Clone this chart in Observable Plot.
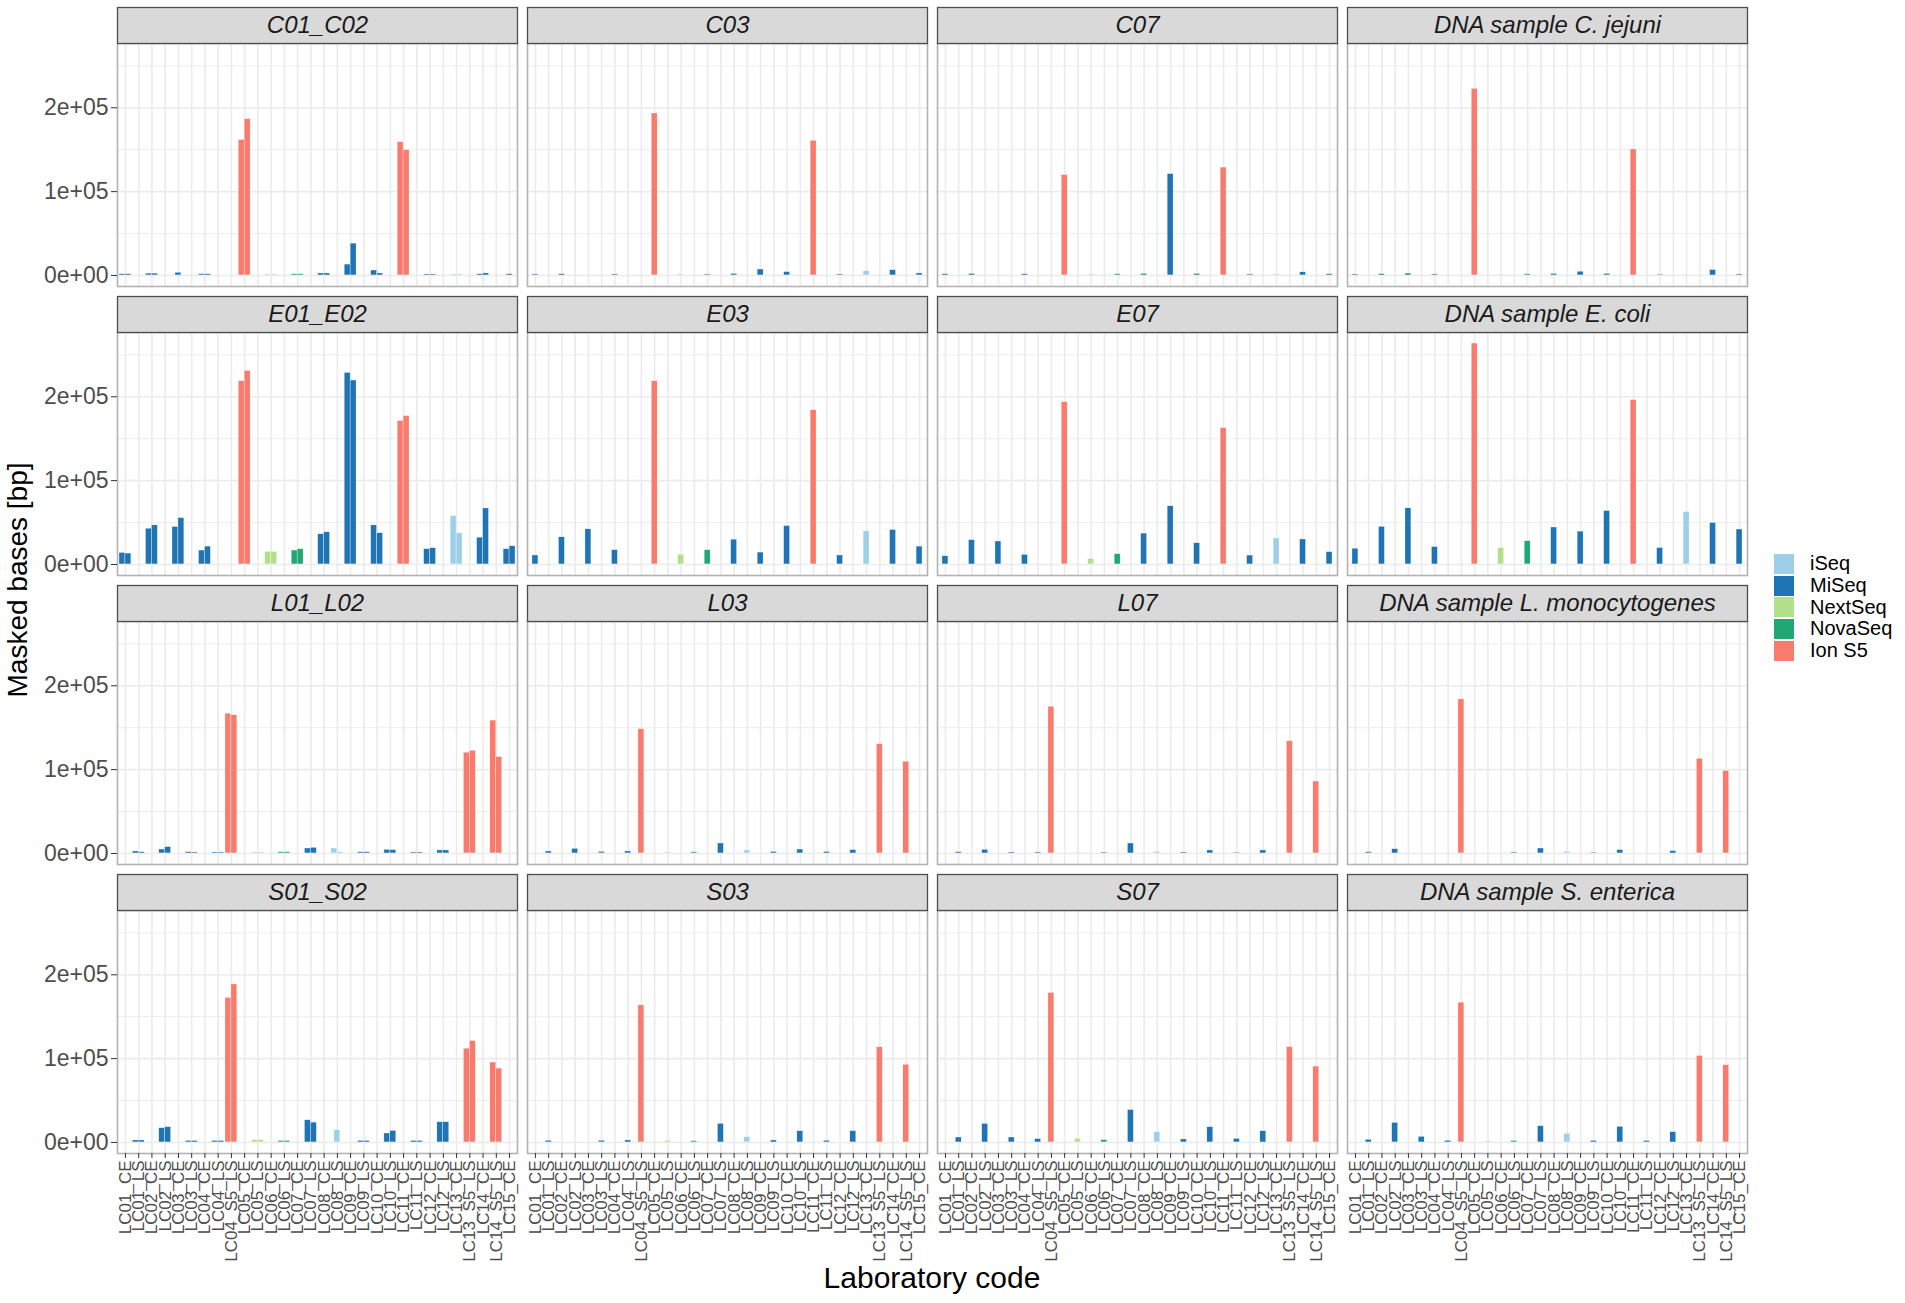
<!DOCTYPE html>
<html>
<head>
<meta charset="utf-8">
<script src="https://cdn.jsdelivr.net/npm/d3@7"></script>
<script src="https://cdn.jsdelivr.net/npm/@observablehq/plot@0.6"></script>
<style>
  html, body { margin: 0; padding: 0; background: white; }
  #wrap { position: relative; width: 1905px; height: 1303px; font-family: "Liberation Sans", Arial, sans-serif; }
  #chart { position: absolute; left: 0; top: 0; }
  .ytitle { position: absolute; left: 18px; top: 580px; transform: translate(-50%, -50%) rotate(-90deg); font-size: 28px; color: #000; white-space: nowrap; }
  .xtitle { position: absolute; left: 932px; top: 1278px; transform: translate(-50%, -50%); font-size: 30px; color: #000; white-space: nowrap; }
  #legend { position: absolute; left: 1774px; top: 553px; }
  .item { display: flex; align-items: center; height: 21.7px; }
  .key { width: 20px; height: 20px; margin-right: 16px; }
  .lab { font-size: 20px; color: #000; }
</style>
</head>
<body>
<div id="wrap">
  <div id="chart"></div>
  <div class="ytitle">Masked bases [bp]</div>
  <div class="xtitle">Laboratory code</div>
  <div id="legend"></div>
</div>
<script>
// ---------- data ----------
const xLabels = ["LC01_CE","LC01_LS","LC02_CE","LC02_LS","LC03_CE","LC03_LS","LC04_CE","LC04_LS","LC04_S5_LS",
  "LC05_CE","LC05_LS","LC06_CE","LC06_LS","LC07_CE","LC07_LS","LC08_CE","LC08_LS","LC09_CE","LC09_LS",
  "LC10_CE","LC10_LS","LC11_CE","LC11_LS","LC12_CE","LC12_LS","LC13_CE","LC13_S5_LS","LC14_CE","LC14_S5_LS","LC15_CE"];

const ceLabs = ["LC01_CE","LC02_CE","LC03_CE","LC04_CE","LC05_CE","LC06_CE","LC07_CE","LC08_CE","LC09_CE","LC10_CE","LC11_CE","LC12_CE","LC13_CE","LC14_CE","LC15_CE"];
const lsLabs = ["LC01_LS","LC02_LS","LC03_LS","LC04_LS","LC04_S5_LS","LC05_LS","LC06_LS","LC07_LS","LC08_LS","LC09_LS","LC10_LS","LC11_LS","LC12_LS","LC13_S5_LS","LC14_S5_LS"];

const cePlatform = ["MiSeq","MiSeq","MiSeq","MiSeq","Ion S5","NextSeq","NovaSeq","MiSeq","MiSeq","MiSeq","Ion S5","MiSeq","iSeq","MiSeq","MiSeq"];
const lsPlatform = ["MiSeq","MiSeq","MiSeq","MiSeq","Ion S5","NextSeq","NovaSeq","MiSeq","iSeq","MiSeq","MiSeq","MiSeq","MiSeq","Ion S5","Ion S5"];

const platforms = ["iSeq","MiSeq","NextSeq","NovaSeq","Ion S5"];
const platformColors = ["#9ecfea","#1f74b4","#b2df8a","#1fa774","#f97b6d"];

const panelTitles = [
  ["C01_C02","C03","C07","DNA sample C. jejuni"],
  ["E01_E02","E03","E07","DNA sample E. coli"],
  ["L01_L02","L03","L07","DNA sample L. monocytogenes"],
  ["S01_S02","S03","S07","DNA sample S. enterica"]
];

// Campylobacter (CE order)
const C01 = [1500,2200,3200,1500,161500,1200,1500,2400,13000,5900,159000,1200,1200,1500,1500];
const C02 = [1500,2200,null,1500,186500,1200,1500,2400,38000,2400,149600,1200,1200,2400,null];
const C03 = [1200,1500,null,1200,193200,1200,1200,1800,7100,4000,160700,1200,5100,6300,2400];
const C07 = [1500,1800,null,1500,119700,1200,1500,1800,120900,1800,128700,1200,1200,3700,1500];
const CJ  = [1200,1500,2200,1200,222600,1000,1500,1800,4500,1800,150300,1000,1000,6500,1200];

// E. coli (CE order)
const E01 = [13800,42700,44700,16600,218600,15000,16600,36000,228500,46600,171000,18200,57700,32000,18200];
const E02 = [13000,46600,55300,21300,230800,15000,18200,38300,219400,37200,177000,19400,37200,66800,21700];
const E03 = [10700,32400,41900,17000,218600,11500,17000,29600,14200,45800,184000,10700,39500,41100,21300];
const E07 = [9800,29000,27400,11400,193600,6500,12300,36800,69400,25300,162600,10600,31000,29800,14700];
const EC  = [18800,44900,67000,20800,263500,19600,27800,44100,39200,63700,196100,19600,62500,49400,41700];

// L. monocytogenes (LS order)
const L01 = [2400,4700,1500,1200,166800,1200,1500,5900,5900,1500,4300,1200,3600,120200,158500];
const L02 = [1500,7500,1200,1200,164800,1200,1500,6700,1500,1500,4000,1200,3600,122500,115000];
const L03 = [2400,5500,1800,2400,148200,1200,1500,11900,3600,1800,4700,1800,4000,130400,109500];
const L07 = [1500,4300,1200,1200,175000,1000,1200,11900,1800,1200,3600,1000,3600,134000,85800];
const LM  = [1500,5100,null,null,183800,null,1200,5900,1800,1000,4000,null,2800,113000,98400];

// S. enterica (LS order)
const S01 = [2400,17000,1800,1800,172300,2800,1800,26500,14600,1800,10700,1800,24100,111900,95300];
const S02 = [2400,18200,1800,1800,188500,2800,1800,23700,null,1800,13800,1800,24100,121000,88100];
const S03 = [2000,null,2000,2400,163500,1800,1500,22200,6300,2400,13500,2000,13500,113600,92600];
const S07 = [5900,22100,5900,4000,178300,4300,2800,38700,12300,3600,18200,4300,13400,113800,90500];
const SE  = [3200,23300,6700,2000,166800,1200,1800,19400,10300,1800,18600,1800,12300,103200,92100];

const yTicks = [0, 100000, 200000];
const yMinor = [50000, 150000, 250000];

// ---------- build table ----------
const panels = [
  {row:0, col:0, labs:ceLabs, plat:cePlatform, reps:[C01, C02]},
  {row:0, col:1, labs:ceLabs, plat:cePlatform, reps:[C03]},
  {row:0, col:2, labs:ceLabs, plat:cePlatform, reps:[C07]},
  {row:0, col:3, labs:ceLabs, plat:cePlatform, reps:[CJ]},
  {row:1, col:0, labs:ceLabs, plat:cePlatform, reps:[E01, E02]},
  {row:1, col:1, labs:ceLabs, plat:cePlatform, reps:[E03]},
  {row:1, col:2, labs:ceLabs, plat:cePlatform, reps:[E07]},
  {row:1, col:3, labs:ceLabs, plat:cePlatform, reps:[EC]},
  {row:2, col:0, labs:lsLabs, plat:lsPlatform, reps:[L01, L02]},
  {row:2, col:1, labs:lsLabs, plat:lsPlatform, reps:[L03]},
  {row:2, col:2, labs:lsLabs, plat:lsPlatform, reps:[L07]},
  {row:2, col:3, labs:lsLabs, plat:lsPlatform, reps:[LM]},
  {row:3, col:0, labs:lsLabs, plat:lsPlatform, reps:[S01, S02]},
  {row:3, col:1, labs:lsLabs, plat:lsPlatform, reps:[S03]},
  {row:3, col:2, labs:lsLabs, plat:lsPlatform, reps:[S07]},
  {row:3, col:3, labs:lsLabs, plat:lsPlatform, reps:[SE]}
];

const barW = 0.45; // dodge width per bar (fraction of a category)
const bars = [];
for (const p of panels) {
  p.labs.forEach((lab, j) => {
    const i = xLabels.indexOf(lab);
    const vals = p.reps.map(r => r[j]).filter(v => v != null);
    vals.forEach((v, m) => {
      const start = i - barW * vals.length / 2 + barW * m;
      bars.push({row: p.row, col: p.col, x1: start, x2: start + barW, value: v, platform: p.plat[j]});
    });
  });
}
const strips = [];
panelTitles.forEach((r, ri) => r.forEach((t, ci) => strips.push({row: ri, col: ci, title: t})));

const M = d3.max(bars, d => d.value);

function sci(d) {
  if (d === 0) return "0e+00";
  const e = Math.floor(Math.log10(Math.abs(d)));
  const m = Math.round(d / Math.pow(10, e));
  return `${m}e${e < 0 ? "-" : "+"}${String(Math.abs(e)).padStart(2, "0")}`;
}

// ---------- layout ----------
const panelW = 400, gapX = 10, panelH = 243, gapY = 46, stripH = 36;
const FONT = "'Liberation Sans', Arial, sans-serif";
const idx = d3.range(xLabels.length);

const chart = Plot.plot({
  width: 1905,
  height: 1303,
  marginLeft: 117,
  marginRight: 1905 - 117 - (4 * panelW + 3 * gapX),
  marginTop: 43,
  marginBottom: 1303 - 43 - (4 * panelH + 3 * gapY),
  style: {fontFamily: FONT, background: "white", overflow: "visible"},
  fx: {domain: [0,1,2,3], axis: null, paddingInner: gapX / (panelW + gapX), paddingOuter: 0, round: false},
  fy: {domain: [0,1,2,3], axis: null, paddingInner: gapY / (panelH + gapY), paddingOuter: 0, round: false},
  x: {type: "linear", domain: [-0.6, xLabels.length - 1 + 0.6], axis: null},
  y: {domain: [-0.05 * M, 1.05 * M], axis: null},
  color: {domain: platforms, range: platformColors},
  marks: [
    Plot.gridY({ticks: yMinor, stroke: "#ebebeb", strokeOpacity: 1, strokeWidth: 0.9}),
    Plot.gridY({ticks: yTicks, stroke: "#ebebeb", strokeOpacity: 1, strokeWidth: 1.6}),
    Plot.gridX({ticks: idx, stroke: "#ebebeb", strokeOpacity: 1, strokeWidth: 1.6}),
    Plot.rect(bars, {
      fx: "col", fy: "row",
      x1: "x1", x2: "x2", y1: () => 0, y2: "value",
      fill: "platform", stroke: "white", strokeWidth: 0.35
    }),
    Plot.frame({stroke: "#b3b3b3", strokeWidth: 1.6}),
    Plot.frame({fill: "#d9d9d9", stroke: "#4d4d4d", strokeWidth: 1.3, insetTop: -stripH, insetBottom: panelH}),
    Plot.text(strips, {
      fx: "col", fy: "row", text: "title",
      frameAnchor: "top", lineAnchor: "middle", dy: -stripH / 2,
      fontSize: 24, fontStyle: "italic", fill: "#1a1a1a"
    }),
    Plot.axisY({
      ticks: yTicks, tickFormat: sci, tickSize: 6, tickPadding: 3,
      fontSize: 23, stroke: "#333", fill: "#4d4d4d", label: null
    }),
    Plot.axisX({
      ticks: idx, tickFormat: i => xLabels[i], tickSize: 5, tickPadding: 2,
      tickRotate: -90, fontSize: 17, stroke: "#333", fill: "#4d4d4d", label: null
    })
  ]
});
document.getElementById("chart").appendChild(chart);

// ---------- legend ----------
const leg = document.getElementById("legend");
platforms.forEach((p, i) => {
  const it = document.createElement("div");
  it.className = "item";
  it.innerHTML = `<div class="key" style="background:${platformColors[i]}"></div><div class="lab">${p}</div>`;
  leg.appendChild(it);
});
</script>
</body>
</html>
